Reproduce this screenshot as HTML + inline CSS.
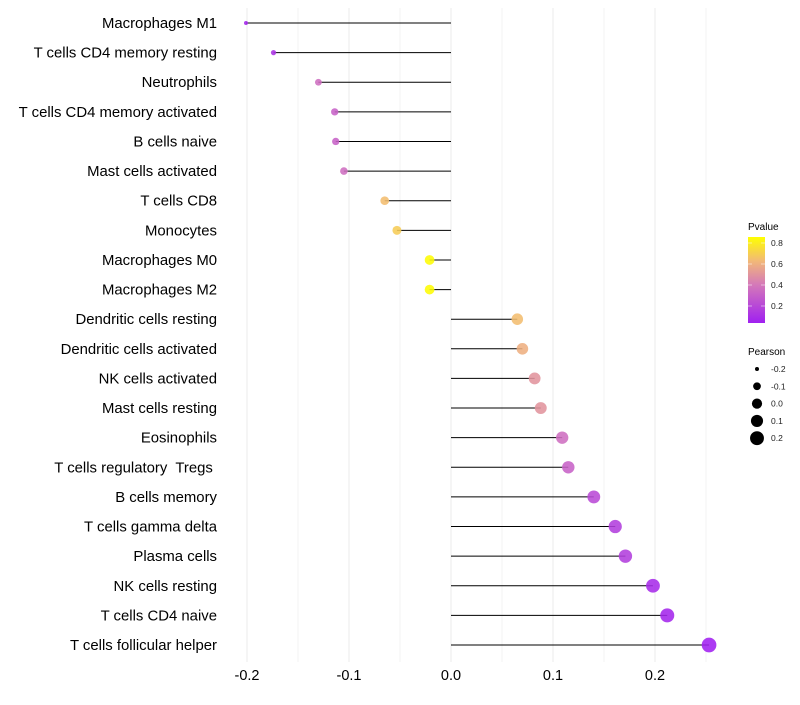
<!DOCTYPE html>
<html><head><meta charset="utf-8"><style>
body{margin:0;background:#fff;font-family:"Liberation Sans",sans-serif;}
svg text{font-family:"Liberation Sans",sans-serif;white-space:pre;}
</style></head><body>
<svg id="chart" width="800" height="700">
<defs><linearGradient id="pg" x1="0" y1="1" x2="0" y2="0">
<stop offset="0" stop-color="#A020F0"/><stop offset="0.45" stop-color="#D57AB8"/><stop offset="0.72" stop-color="#F2B878"/><stop offset="1" stop-color="#FFFF00"/>
</linearGradient></defs>
<g id="grid"></g><g id="marks"></g><g id="axes"></g>
<g>
<text x="748" y="230" font-size="10">Pvalue</text>
<rect x="748" y="237" width="17" height="86" fill="url(#pg)"/>
<g id="cbticks"></g>
</g>
<g id="sizeleg">
<text x="748" y="355" font-size="10">Pearson</text>
</g>
</svg>
<script>
const categories=["Macrophages M1","T cells CD4 memory resting","Neutrophils","T cells CD4 memory activated","B cells naive","Mast cells activated","T cells CD8","Monocytes","Macrophages M0","Macrophages M2","Dendritic cells resting","Dendritic cells activated","NK cells activated","Mast cells resting","Eosinophils","T cells regulatory  Tregs ","B cells memory","T cells gamma delta","Plasma cells","NK cells resting","T cells CD4 naive","T cells follicular helper"];
const pearson=[-0.201,-0.174,-0.130,-0.114,-0.113,-0.105,-0.065,-0.053,-0.021,-0.021,0.065,0.070,0.082,0.088,0.109,0.115,0.140,0.161,0.171,0.198,0.212,0.253];
const pvalue=[0.05,0.1,0.35,0.3,0.3,0.35,0.65,0.7,0.86,0.86,0.65,0.6,0.5,0.5,0.35,0.3,0.2,0.15,0.15,0.07,0.05,0.02];
const xTicks=[-0.2,-0.1,0.0,0.1,0.2];
const xTickLabels=["-0.2","-0.1","0.0","0.1","0.2"];
const cbTicks=[0.2,0.4,0.6,0.8];
const sizeTicks=[-0.2,-0.1,0.0,0.1,0.2];
const sizeTickLabels=["-0.2","-0.1","0.0","0.1","0.2"];

const NS="http://www.w3.org/2000/svg";
const X=v=>451+v*1020;
const Y=i=>23+i*(622/21);
const R=v=>Math.sqrt(Math.max(1,26+110*v));
const CB=p=>243+(0.8-p)*(63/0.6);
function col(p){const t=Math.max(0,Math.min(1,(p-0.02)/0.85));
const st=[[0,[160,32,240]],[0.45,[213,122,184]],[0.72,[242,184,120]],[1,[255,255,0]]];
for(let k=1;k<st.length;k++){if(t<=st[k][0]){const a=st[k-1],b=st[k];const f=(t-a[0])/(b[0]-a[0]);
return "rgb("+a[1].map((c,j)=>Math.round(c+(b[1][j]-c)*f)).join(",")+")";}}return "rgb(255,255,0)";}
function mk(tag,attrs,parent,txt){const e=document.createElementNS(NS,tag);for(const k in attrs)e.setAttribute(k,attrs[k]);if(txt!==undefined)e.textContent=txt;parent.appendChild(e);return e;}
const grid=document.getElementById('grid'),marks=document.getElementById('marks'),axes=document.getElementById('axes');
for(let v=-0.2;v<=0.251;v+=0.05){const g=mk('line',{x1:X(v),x2:X(v),y1:8,y2:662,stroke:'#ebebeb','stroke-width':Math.abs(Math.round(v*20))%2===0?1:0.6},grid);

}
categories.forEach((c,i)=>{const y=Y(i);
const l=mk('line',{x1:X(0),x2:X(pearson[i]),y1:y,y2:y,stroke:'#000','stroke-width':1},marks);


const p=mk('circle',{cx:X(pearson[i]),cy:y,r:R(pearson[i]),fill:col(pvalue[i]),'fill-opacity':0.88},marks);


const t=mk('text',{x:217,y:y+5,'font-size':14.9,'text-anchor':'end',fill:'#000'},axes,c);

});
xTicks.forEach((v,i)=>{const t=mk('text',{x:X(v),y:680,'font-size':14.5,'text-anchor':'middle',fill:'#000'},axes,xTickLabels[i]);

});
const cb=document.getElementById('cbticks');
cbTicks.forEach(p=>{const y=CB(p);
mk('line',{x1:748,x2:752,y1:y,y2:y,stroke:'#fff','stroke-opacity':0.5},cb);
mk('line',{x1:761,x2:765,y1:y,y2:y,stroke:'#fff','stroke-opacity':0.5},cb);
const t=mk('text',{x:771,y:y+3,'font-size':8.5,fill:'#222'},cb,p.toFixed(1));

});
const sl=document.getElementById('sizeleg');
sizeTicks.forEach((v,i)=>{const y=369+i*17.3;
const c=mk('circle',{cx:757,cy:y,r:R(v),fill:'#000'},sl);


const t=mk('text',{x:771,y:y+3,'font-size':8.5,fill:'#222'},sl,sizeTickLabels[i]);

});
</script>
</body></html>
